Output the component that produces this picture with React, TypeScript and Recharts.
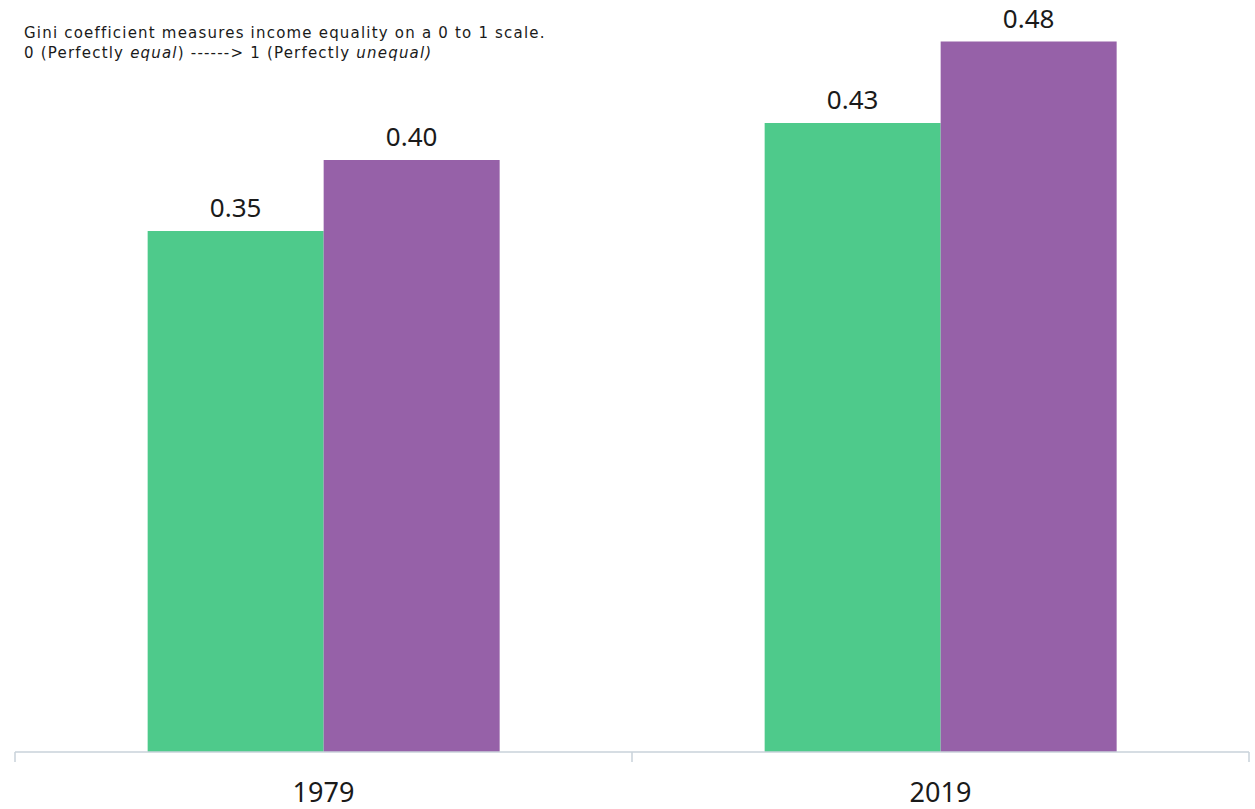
import React from 'react';
import { BarChart, Bar, XAxis, YAxis, LabelList } from 'recharts';

const categories = ['1979', '2019'];
const seriesA = [0.352, 0.425];
const seriesB = [0.4, 0.48];

const data = categories.map((c, i) => ({ year: c, a: seriesA[i], b: seriesB[i] }));

const fmt = (v: any) => (Math.round(Number(v) * 100) / 100).toFixed(2);
const FONT = '"Noto Sans", "Open Sans", sans-serif';
const AXIS_COLOR = '#c9d2da';

const EdgeTick = (props: any) => {
  const { x, y, payload, index, visibleTicksCount } = props;
  const half = payload && payload.offset ? payload.offset : 0;
  const isLast = index === (visibleTicksCount ?? categories.length) - 1;
  return (
    <g>
      <line x1={x - half} x2={x - half} y1={y} y2={y + 10} stroke={AXIS_COLOR} strokeWidth={1.5} />
      {isLast && <line x1={x + half} x2={x + half} y1={y} y2={y + 10} stroke={AXIS_COLOR} strokeWidth={1.5} />}
      <text x={x} y={y + 50} textAnchor="middle" fontSize={27} fill="#1a1a1a" fontFamily={FONT}>
        {payload.value}
      </text>
    </g>
  );
};

export default function App() {
  return (
    <div style={{ position: 'absolute', left: 0, top: 0, width: 1255, height: 809, background: '#fff', fontFamily: FONT }}>
      <BarChart
        width={1255}
        height={809}
        data={data}
        margin={{ top: 12, right: 6, bottom: 0, left: 15 }}
        barCategoryGap="21.5%"
        barGap={0}
      >
        <YAxis hide domain={[0, 0.5]} />
        <XAxis
          dataKey="year"
          height={57}
          axisLine={{ stroke: AXIS_COLOR, strokeWidth: 1.5 }}
          tickLine={false}
          tickSize={0}
          tickMargin={0}
          tick={<EdgeTick />}
        />
        <Bar dataKey="a" fill="#4ECA8B" isAnimationActive={false}>
          <LabelList dataKey="a" position="top" offset={14} formatter={fmt} style={{ fontSize: 26, fill: '#1a1a1a', fontFamily: FONT }} />
        </Bar>
        <Bar dataKey="b" fill="#9661A8" isAnimationActive={false}>
          <LabelList dataKey="b" position="top" offset={14} formatter={fmt} style={{ fontSize: 26, fill: '#1a1a1a', fontFamily: FONT }} />
        </Bar>
      </BarChart>
      <div style={{ position: 'absolute', left: 24, top: 23, fontSize: 15, lineHeight: '20px', letterSpacing: '1.2px', color: '#1a1a1a', fontFamily: '"DejaVu Sans", sans-serif', whiteSpace: 'nowrap' }}>
        <div>Gini coefficient measures income equality on a 0 to 1 scale.</div>
        <div>
          0 (Perfectly <i>equal</i>) ------&gt; 1 (Perfectly <i>unequal)</i>
        </div>
      </div>
    </div>
  );
}
